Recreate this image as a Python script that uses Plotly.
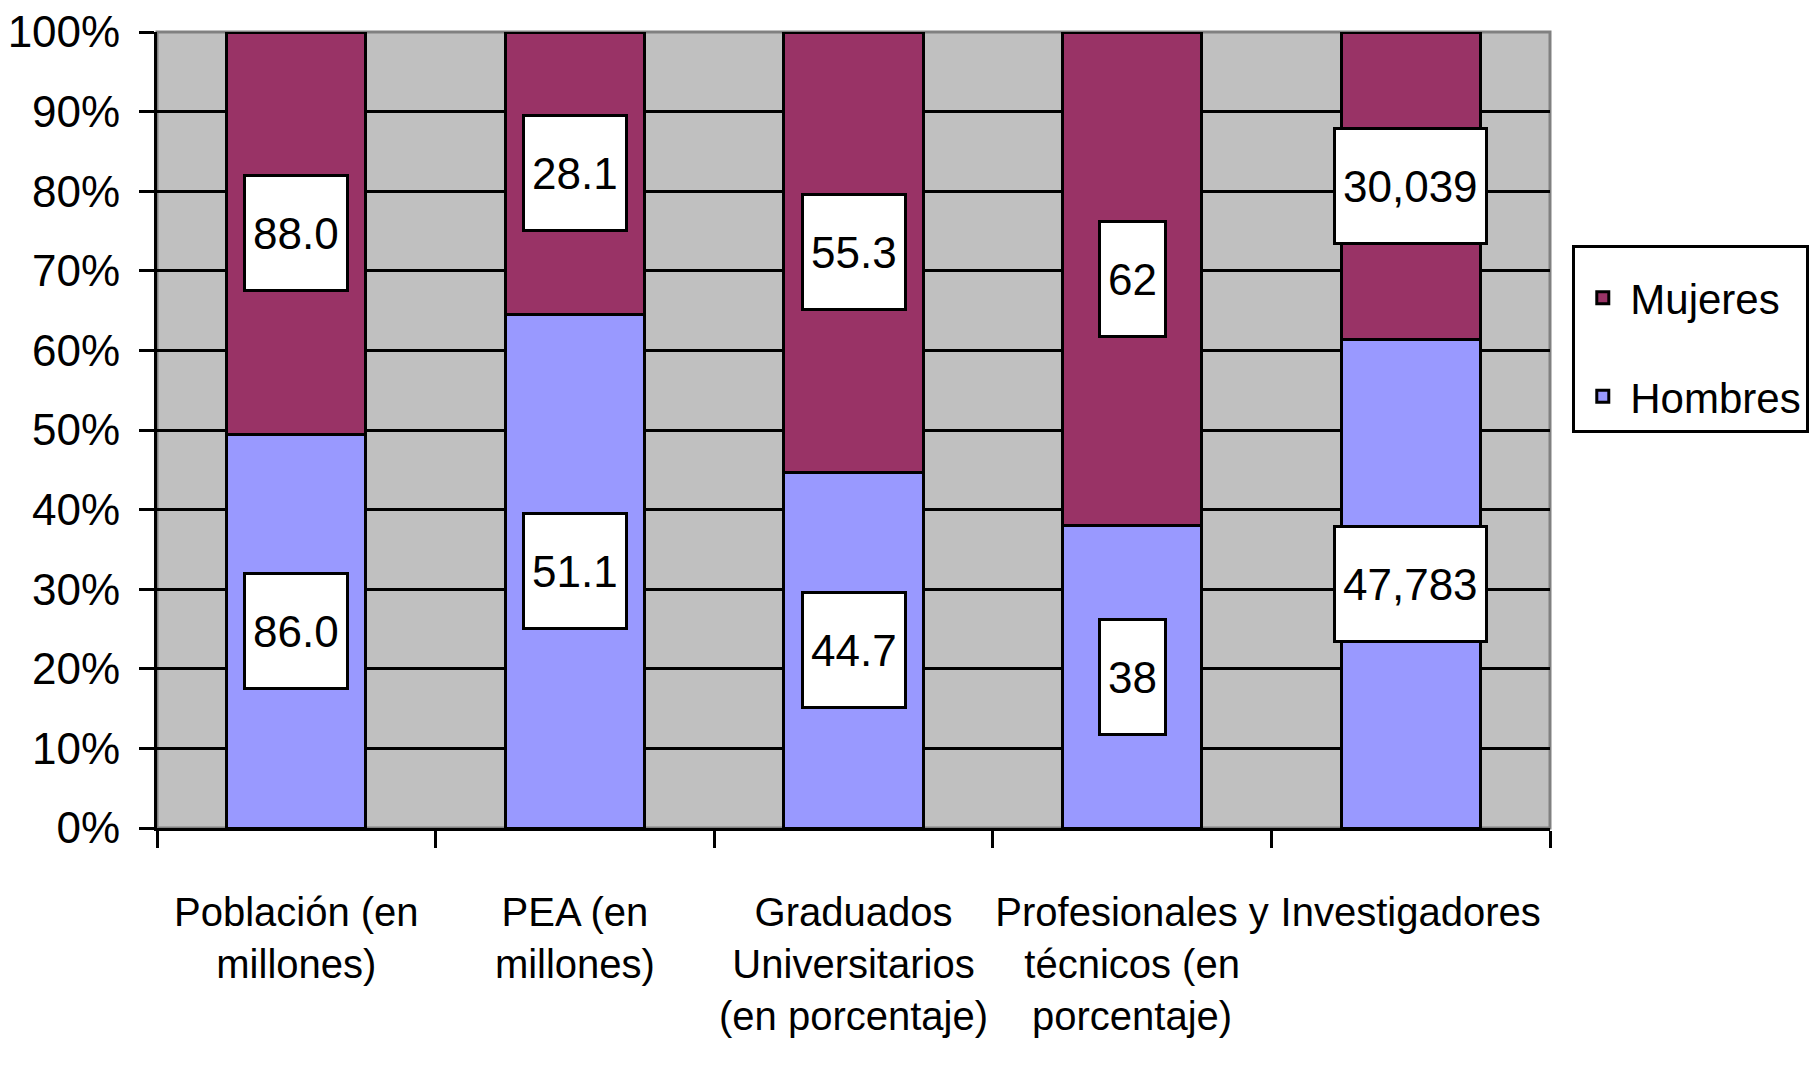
import plotly.graph_objects as go

categories = [
    "Población (en<br>millones)",
    "PEA (en<br>millones)",
    "Graduados<br>Universitarios<br>(en porcentaje)",
    "Profesionales y<br>técnicos (en<br>porcentaje)",
    "Investigadores",
]
hombres = [86.0, 51.1, 44.7, 38, 47783]
mujeres = [88.0, 28.1, 55.3, 62, 30039]
hombres_labels = ["86.0", "51.1", "44.7", "38", "47,783"]
mujeres_labels = ["88.0", "28.1", "55.3", "62", "30,039"]
y_ticks = [0, 10, 20, 30, 40, 50, 60, 70, 80, 90, 100]
y_ticktext = [f"{v}%" for v in y_ticks]

FONT = "Liberation Sans, Arial, sans-serif"
C_M = "#993366"
C_H = "#9999FF"

fig = go.Figure()
fig.add_trace(go.Bar(x=categories, y=hombres, name="Hombres",
                     marker=dict(color=C_H, line=dict(color="black", width=3)),
                     legendgroup="h", legendrank=2))
fig.add_trace(go.Bar(x=categories, y=mujeres, name="Mujeres",
                     marker=dict(color=C_M, line=dict(color="black", width=3)),
                     legendgroup="m", legendrank=1))

annotations = []
for c, h, m, hl, ml in zip(categories, hombres, mujeres, hombres_labels, mujeres_labels):
    tot = h + m
    hp = h / tot * 100
    mp = m / tot * 100
    for yv, txt in ((hp / 2, hl), (hp + mp / 2, ml)):
        annotations.append(dict(x=c, y=yv, xref="x", yref="y", text=txt, showarrow=False,
                                font=dict(family=FONT, size=44, color="black"),
                                bgcolor="white", bordercolor="black", borderwidth=3,
                                borderpad=7, height=98))

fig.update_layout(
    width=1810, height=1075,
    barmode="stack", barnorm="percent", bargap=0.5,
    plot_bgcolor="#C0C0C0", paper_bgcolor="white",
    margin=dict(l=149, r=268, t=24, b=255, autoexpand=False),
    font=dict(family=FONT, size=44, color="black"),
    showlegend=True,
    legend=dict(x=1.016, y=0.732, xanchor="left", yanchor="top",
                bgcolor="white", bordercolor="black", borderwidth=3,
                traceorder="grouped", tracegroupgap=41, itemwidth=45,
                title=dict(text=" ", font=dict(family=FONT, size=12)),
                font=dict(family=FONT, size=42, color="black")),
    annotations=annotations,
    shapes=[dict(type="rect", xref="paper", yref="paper", x0=0, x1=1, y0=0, y1=1,
                 line=dict(color="#808080", width=3), layer="between")],
)
fig.update_yaxes(range=[0, 100], tickmode="array", tickvals=y_ticks, ticktext=y_ticktext,
                 showgrid=True, gridcolor="black", gridwidth=3,
                 ticks="outside", ticklen=15, tickwidth=3, tickcolor="black",
                 showline=True, linecolor="black", linewidth=3, zeroline=False,
                 ticklabeloverflow="allow",
                 ticklabelstandoff=10, tickfont=dict(family=FONT, size=44))
fig.update_xaxes(showline=True, linecolor="black", linewidth=3, ticks="outside", tickson="boundaries",
                 ticklen=17, tickwidth=3, tickcolor="black", showgrid=False, tickangle=0,
                 ticklabelstandoff=47, tickfont=dict(family=FONT, size=40))

fig.write_html("out.html")
